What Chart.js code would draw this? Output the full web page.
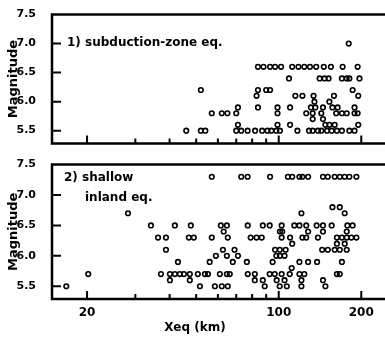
<!DOCTYPE html>
<html>
<head>
<meta charset="utf-8">
<script src="https://cdn.jsdelivr.net/npm/chart.js@4.4.1/dist/chart.umd.min.js"></script>
<style>
  html, body { margin: 0; padding: 0; background: #fff; }
  #wrap { position: relative; width: 385px; height: 339px; overflow: hidden; }
  #subduction-chart { position: absolute; left: 0; top: 0; }
  #inland-chart { position: absolute; left: 0; top: 150px; }
</style>
</head>
<body>
<div id="wrap">
  <canvas id="subduction-chart" width="392" height="158"></canvas>
  <canvas id="inland-chart" width="392" height="189"></canvas>
</div>
<script>
// 1) subduction-zone earthquakes: distance Xeq (km) and magnitude
const subductionKm = [
  180,
  84, 88, 93, 97, 102, 112, 118, 124, 130, 137, 146, 155, 171, 194,
  109, 141, 147, 152, 170, 177, 181, 197,
  52, 84, 90, 93, 186,
  83, 115, 122, 134, 159, 195,
  135, 153,
  71, 84, 99, 110, 131, 136, 145, 157, 164, 189,
  57, 62, 65, 70, 99, 126, 133, 143, 162, 170, 177, 189, 194,
  133, 145,
  71, 99, 110, 148, 153, 160, 195,
  46, 52, 54, 70, 73, 77, 82, 87, 91, 94, 98, 101, 117, 129, 133, 139, 143, 150, 156, 163, 170, 181, 189
];
const subductionMag = [
  7.0,
  6.6, 6.6, 6.6, 6.6, 6.6, 6.6, 6.6, 6.6, 6.6, 6.6, 6.6, 6.6, 6.6, 6.6,
  6.4, 6.4, 6.4, 6.4, 6.4, 6.4, 6.4, 6.4,
  6.2, 6.2, 6.2, 6.2, 6.2,
  6.1, 6.1, 6.1, 6.1, 6.1, 6.1,
  6.0, 6.0,
  5.9, 5.9, 5.9, 5.9, 5.9, 5.9, 5.9, 5.9, 5.9, 5.9,
  5.8, 5.8, 5.8, 5.8, 5.8, 5.8, 5.8, 5.8, 5.8, 5.8, 5.8, 5.8, 5.8,
  5.7, 5.7,
  5.6, 5.6, 5.6, 5.6, 5.6, 5.6, 5.6,
  5.5, 5.5, 5.5, 5.5, 5.5, 5.5, 5.5, 5.5, 5.5, 5.5, 5.5, 5.5, 5.5, 5.5, 5.5, 5.5, 5.5, 5.5, 5.5, 5.5, 5.5, 5.5, 5.5
];

// 2) shallow inland earthquakes
const inlandKm = [
  57, 73, 77, 93, 108, 112, 119, 122, 128, 145, 151, 160, 167, 174, 181, 192,
  157, 167,
  28.2, 121, 174,
  34.2, 41.8, 47.8, 61.5, 64.7, 77.1, 87.5, 92.7, 102.5, 114, 119, 126, 137.5, 145, 156, 178, 186,
  63, 101, 103, 128, 145, 177,
  36.3, 38.8, 47, 49, 57, 65.2, 79, 83, 86.7, 102.5, 110, 122, 126, 139, 163, 170, 177, 184, 192,
  112, 163, 174,
  38.8, 62.6, 69, 97, 101, 106, 144, 151, 160, 167, 177,
  59, 64.7, 71, 98, 101, 105,
  42.9, 56, 68, 76.5, 95, 119, 128, 138, 170,
  111.5,
  20.2, 37.2, 40.1, 41.8, 43.6, 45.1, 47.4, 50.7, 53.8, 55.2, 61, 64.7, 66.3, 77.1, 81.8, 92.7, 96.7, 102.5, 109.7, 119, 124, 163, 167,
  40.1, 47.4, 81.8, 87.5, 98.3, 105, 121, 145,
  16.8, 51.6, 58.5, 62, 65.2, 88.9, 100.8, 107, 121, 148
];
const inlandMag = [
  7.3, 7.3, 7.3, 7.3, 7.3, 7.3, 7.3, 7.3, 7.3, 7.3, 7.3, 7.3, 7.3, 7.3, 7.3, 7.3,
  6.8, 6.8,
  6.7, 6.7, 6.7,
  6.5, 6.5, 6.5, 6.5, 6.5, 6.5, 6.5, 6.5, 6.5, 6.5, 6.5, 6.5, 6.5, 6.5, 6.5, 6.5, 6.5,
  6.4, 6.4, 6.4, 6.4, 6.4, 6.4,
  6.3, 6.3, 6.3, 6.3, 6.3, 6.3, 6.3, 6.3, 6.3, 6.3, 6.3, 6.3, 6.3, 6.3, 6.3, 6.3, 6.3, 6.3, 6.3,
  6.2, 6.2, 6.2,
  6.1, 6.1, 6.1, 6.1, 6.1, 6.1, 6.1, 6.1, 6.1, 6.1, 6.1,
  6.0, 6.0, 6.0, 6.0, 6.0, 6.0,
  5.9, 5.9, 5.9, 5.9, 5.9, 5.9, 5.9, 5.9, 5.9,
  5.8,
  5.7, 5.7, 5.7, 5.7, 5.7, 5.7, 5.7, 5.7, 5.7, 5.7, 5.7, 5.7, 5.7, 5.7, 5.7, 5.7, 5.7, 5.7, 5.7, 5.7, 5.7, 5.7, 5.7,
  5.6, 5.6, 5.6, 5.6, 5.6, 5.6, 5.6, 5.6,
  5.5, 5.5, 5.5, 5.5, 5.5, 5.5, 5.5, 5.5, 5.5, 5.5
];

const magTicks = [5.5, 6.0, 6.5, 7.0, 7.5];
const kmTicks = [20, 30, 40, 50, 60, 70, 80, 90, 100, 200];
const kmLabels = [20, 100, 200];

const FONT = "'DejaVu Sans', sans-serif";

// frame, inward ticks, x labels and the panel texts
const decor = (opts) => ({
    id: 'decor',
    afterDatasetsDraw(chart) {
        const { ctx, chartArea: a, scales: { x, y } } = chart;
        ctx.save();
        ctx.strokeStyle = '#000';
        ctx.lineWidth = 2;
        ctx.beginPath();
        y.ticks.forEach(t => {
            if (t.value >= 7.5) return;
            const py = y.getPixelForValue(t.value);
            ctx.moveTo(a.left, py);
            ctx.lineTo(a.left + 9, py);
        });
        x.ticks.forEach(t => {
            const px = x.getPixelForValue(t.value);
            const len = kmLabels.includes(t.value) ? 8 : 5;
            ctx.moveTo(px, a.bottom);
            ctx.lineTo(px, a.bottom - len);
        });
        ctx.stroke();

        ctx.lineWidth = 2.5;
        ctx.beginPath();
        ctx.moveTo(a.right + 5, a.top);
        ctx.lineTo(a.left, a.top);
        ctx.lineTo(a.left, a.bottom);
        ctx.lineTo(a.right + 5, a.bottom);
        ctx.stroke();

        ctx.fillStyle = '#000';
        ctx.textBaseline = 'middle';
        if (opts.xLabels) {
            ctx.font = 'bold 12px ' + FONT;
            ctx.textAlign = 'center';
            kmLabels.forEach(v => {
                ctx.fillText(String(v), x.getPixelForValue(v), a.bottom + 14);
            });
        }
        opts.texts.forEach(t => {
            ctx.font = 'bold ' + t.size + 'px ' + FONT;
            ctx.textAlign = t.align || 'left';
            ctx.fillText(t.text, t.x, t.y);
        });
        ctx.restore();
    }
});

const makePanel = (canvasId, km, mag, opts) => {
    return new Chart(document.getElementById(canvasId).getContext('2d'), {
        type: 'scatter',
        data: {
            datasets: [{
                data: km.map((v, i) => ({ x: v, y: mag[i] })),
                pointStyle: 'circle',
                pointRadius: 2.3,
                pointBorderWidth: 1.6,
                borderColor: '#000',
                backgroundColor: 'rgba(255,255,255,0)'
            }]
        },
        options: {
            responsive: false,
            animation: false,
            layout: { padding: { top: opts.padTop, right: 0, left: 0, bottom: 0 } },
            plugins: { legend: { display: false }, tooltip: { enabled: false } },
            scales: {
                x: {
                    type: 'logarithmic',
                    min: 14.9,
                    max: 247,
                    grid: { display: false },
                    border: { display: false },
                    afterBuildTicks: s => { s.ticks = kmTicks.map(v => ({ value: v })); },
                    afterFit: s => { s.height = opts.xHeight; },
                    ticks: { display: false }
                },
                y: {
                    min: opts.yMin,
                    max: 7.5,
                    grid: { display: false },
                    border: { display: false },
                    afterBuildTicks: s => { s.ticks = magTicks.map(v => ({ value: v })); },
                    afterFit: s => { s.width = 52; },
                    ticks: {
                        padding: 8,
                        color: '#000',
                        font: { family: FONT, size: 11, weight: 'bold' },
                        callback: v => Number(v).toFixed(1)
                    },
                    title: {
                        display: true,
                        text: 'Magnitude',
                        color: '#000',
                        padding: { top: 6, bottom: 0 },
                        font: { family: FONT, size: 13, weight: 'bold' }
                    }
                }
            }
        },
        plugins: [decor(opts)]
    });
};

makePanel('subduction-chart', subductionKm, subductionMag, {
    padTop: 12,
    xHeight: 4,
    xLabels: false,
    yMin: 5.28,
    texts: [{ text: '1) subduction-zone eq.', x: 67, y: 43, size: 12 }]
});

makePanel('inland-chart', inlandKm, inlandMag, {
    padTop: 11,
    xHeight: 40,
    xLabels: true,
    yMin: 5.29,
    texts: [
        { text: '2) shallow', x: 64, y: 28, size: 12 },
        { text: 'inland eq.', x: 85, y: 48, size: 12 },
        { text: 'Xeq (km)', x: 195, y: 178, size: 12, align: 'center' }
    ]
});
</script>
</body>
</html>
